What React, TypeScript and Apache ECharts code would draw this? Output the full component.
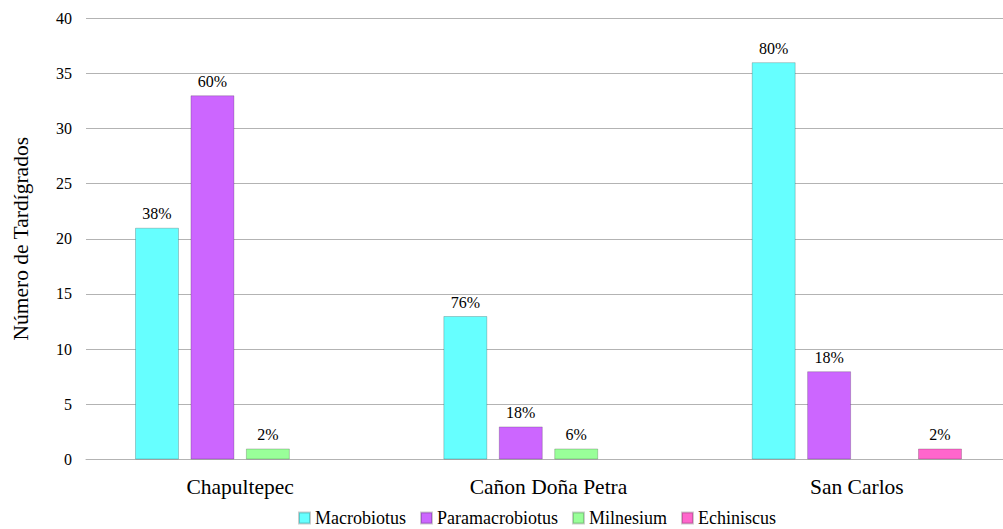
import React, { useEffect, useRef } from "react";
import * as echarts from "echarts";

const categories = ["Chapultepec", "Cañon Doña Petra", "San Carlos"];
const seriesNames = ["Macrobiotus", "Paramacrobiotus", "Milnesium", "Echiniscus"];
const macrobiotus = [21, 13, 36];
const paramacrobiotus = [33, 3, 8];
const milnesium = [1, 1, null];
const echiniscus = [null, null, 1];
const macroLabels = ["38%", "76%", "80%"];
const paraLabels = ["60%", "18%", "18%"];
const milLabels = ["2%", "6%", ""];
const echLabels = ["", "", "2%"];
const colors = ["#66FFFF", "#CC66FF", "#99FF99", "#FF66CC"];
const yTicks = { min: 0, max: 40, interval: 5 };

const FONT = "Liberation Serif";

export default function App() {
  const ref = useRef<HTMLDivElement>(null);
  useEffect(() => {
    if (!ref.current) return;
    const chart = echarts.init(ref.current, undefined, { renderer: "svg" });
    const values = [macrobiotus, paramacrobiotus, milnesium, echiniscus];
    const labels = [macroLabels, paraLabels, milLabels, echLabels];
    chart.setOption({
      animation: false,
      textStyle: { fontFamily: FONT },
      grid: {
        left: 86,
        width: 925,
        top: 18,
        height: 441.5,
        containLabel: false,
        outerBoundsMode: "none",
      },
      legend: {
        left: 298,
        top: 509,
        padding: 0,
        itemWidth: 11,
        itemHeight: 11,
        itemGap: 14,
        icon: "rect",
        textStyle: { fontFamily: FONT, fontSize: 18, color: "#000" },
        data: seriesNames,
      },
      xAxis: {
        type: "category",
        data: categories,
        axisLine: { lineStyle: { color: "#b3b3b3" } },
        axisTick: { show: false },
        axisLabel: { fontFamily: FONT, fontSize: 21.5, color: "#000", margin: 16 },
      },
      yAxis: {
        type: "value",
        min: yTicks.min,
        max: yTicks.max,
        interval: yTicks.interval,
        name: "Número de Tardígrados",
        nameLocation: "middle",
        nameGap: 54,
        nameTextStyle: { fontFamily: FONT, fontSize: 21.5, color: "#000" },
        axisLine: { show: false },
        axisTick: { show: false },
        axisLabel: { fontFamily: FONT, fontSize: 16, color: "#000", margin: 14 },
        splitLine: { lineStyle: { color: "#b3b3b3", width: 1 } },
      },
      series: seriesNames.map((name, i) => ({
        name,
        type: "bar",
        barWidth: 44,
        barGap: "26%",
        data: values[i],
        itemStyle: { color: colors[i], borderColor: "rgba(0,0,0,0.2)", borderWidth: 1 },
        label: {
          show: true,
          position: "top",
          distance: 6,
          fontFamily: FONT,
          fontSize: 16,
          color: "#000",
          formatter: (p: any) => labels[i][p.dataIndex] || "",
        },
      })),
    });
    return () => chart.dispose();
  }, []);
  return <div ref={ref} style={{ width: 1003, height: 529, position: "absolute", left: 0, top: 0 }} />;
}
